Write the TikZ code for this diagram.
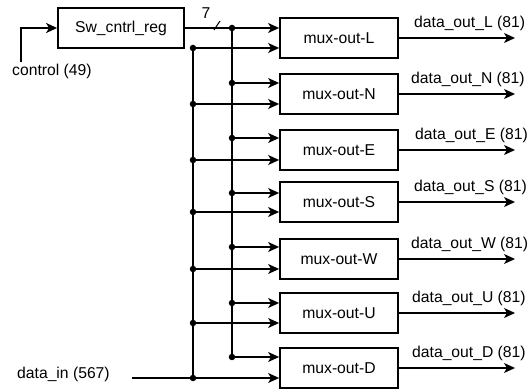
\documentclass[tikz,border=0pt]{standalone}
\usepackage{fontspec}
\setmainfont{Liberation Sans}
\usetikzlibrary{arrows.meta,calc}
\begin{document}
\begin{tikzpicture}[x=1pt,y=-1pt,
  txt/.style={font=\fontsize{15.7}{18}\selectfont,inner sep=0pt},
  box/.style={draw,line width=1.8pt,minimum width=118pt,minimum height=40pt,inner sep=0pt,txt},
  arr/.style={line width=1.3pt,-{Stealth[length=11pt,width=10pt,inset=3pt]}},
  databus/.style={line width=2.2pt},
  ctrlbus/.style={line width=1.4pt},
  dot/.style={circle,fill,inner sep=0pt,minimum size=6.5pt}
]
\useasboundingbox (0,0) rectangle (528,390);

\node[box,minimum width=126pt] (reg) at (121,28) {Sw\_cntrl\_reg};
\coordinate (ctl) at (21,62);
\node[txt,anchor=west] (ctllbl) at (12,71) {control (49)};
\draw[arr,line width=1.8pt] (ctl) |- (reg.west);

\foreach \n/\yc/\yt/\yd/\lx in {L/38/28/48/414, N/94/83/104/411, E/150/138/160/415, S/202/193/212/414, W/259/247/269/411, U/313/303/323/412, D/368/357/378/412} {
  \node[box] (m\n) at (339,\yc) {mux-out-\n};
  \coordinate (o\n) at (515,\yc);
  \draw[arr] (m\n.east) -- (o\n);
  \node[txt,anchor=west] (l\n) at (\lx,\yc-15) {data\_out\_\n{} (81)};
  \coordinate (c\n) at (232,\yt);
  \coordinate (d\n) at (193,\yd);
}

% control bus
\draw[ctrlbus] (cL) -- (cD);
% data bus
\draw[databus] (dL) -- (dD);

% register output to mux L
\draw[arr] (reg.east) -- (cL -| mL.west);
\draw[line width=1pt] (214,30) -- (220,21);
\node[txt] (seven) at (206,13) {7};

\foreach \n in {N,E,S,W,U,D} {
  \draw[arr] (c\n) -- (c\n -| m\n.west);
}
\foreach \n in {L,N,E,S,W,U} {
  \draw[arr] (d\n) -- (d\n -| m\n.west);
}

\coordinate (din) at (132,378);
\node[txt,anchor=west] (dinlbl) at (17,374) {data\_in (567)};
\draw[arr] (din) -- (dD -| mD.west);

\foreach \n in {L,N,E,S,W,U,D} {
  \node[dot] at (c\n) {};
  \node[dot] at (d\n) {};
}
\end{tikzpicture}
\end{document}
